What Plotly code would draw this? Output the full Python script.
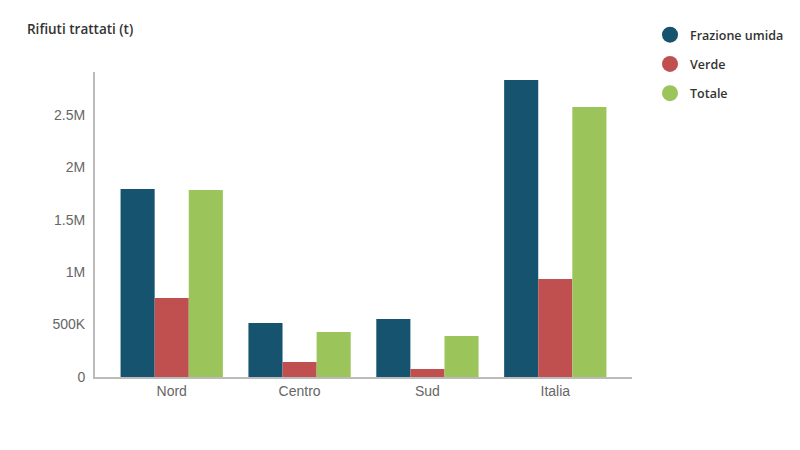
import plotly.graph_objects as go

categories = ["Nord", "Centro", "Sud", "Italia"]
frazione_umida = [1794000, 515000, 553000, 2834000]
verde = [754000, 143000, 76000, 935000]
totale = [1784000, 429000, 391000, 2576000]

series = [
    ("Frazione umida", frazione_umida, "#15536e"),
    ("Verde", verde, "#c05050"),
    ("Totale", totale, "#9bc55a"),
]

fig = go.Figure()
for name, vals, col in series:
    fig.add_trace(go.Bar(x=categories, y=vals, name=name, marker_color=col,
                         marker_line_width=0, showlegend=False))
for name, vals, col in series:
    fig.add_trace(go.Scatter(x=[None], y=[None], mode="markers", name=name,
                             legendgroup=name,
                             marker=dict(symbol="circle", size=17, color=col)))

# page body adds an 8px offset; margins compensate
fig.update_layout(
    width=800, height=450,
    margin=dict(l=87, r=176, t=64, b=81, autoexpand=False),
    plot_bgcolor="white", paper_bgcolor="white",
    barmode="group", bargap=0.2, bargroupgap=0,
    font=dict(family="Liberation Sans, Arial", size=14, color="#666666"),
    xaxis=dict(range=[-0.6, 3.6], showline=True, linecolor="#bbbbbb", linewidth=2,
               ticks="", showgrid=False, tickfont=dict(size=14, color="#666666")),
    yaxis=dict(range=[0, 2910000], showline=True, linecolor="#bbbbbb", linewidth=2,
               showgrid=False, zeroline=False, ticks="", ticklabelstandoff=5,
               tickvals=[0, 500000, 1000000, 1500000, 2000000, 2500000],
               ticktext=["0", "500K", "1M", "1.5M", "2M", "2.5M"],
               tickfont=dict(size=14, color="#666666")),
    legend=dict(x=642 / 800, xanchor="left", y=1 - 12 / 450, yanchor="top",
                xref="container", yref="container",
                font=dict(family="Open Sans", size=12.5, color="#333333", weight=600),
                itemsizing="trace", tracegroupgap=10, itemwidth=30),
    annotations=[dict(text="Rifiuti trattati (t)", xref="paper", yref="paper",
                      x=(25 - 95) / 537, y=(377 - 29) / 305, xanchor="left", yanchor="middle",
                      showarrow=False,
                      font=dict(family="Open Sans", size=13.5, color="#333333", weight=600))],
)

fig.write_html("out.html")
